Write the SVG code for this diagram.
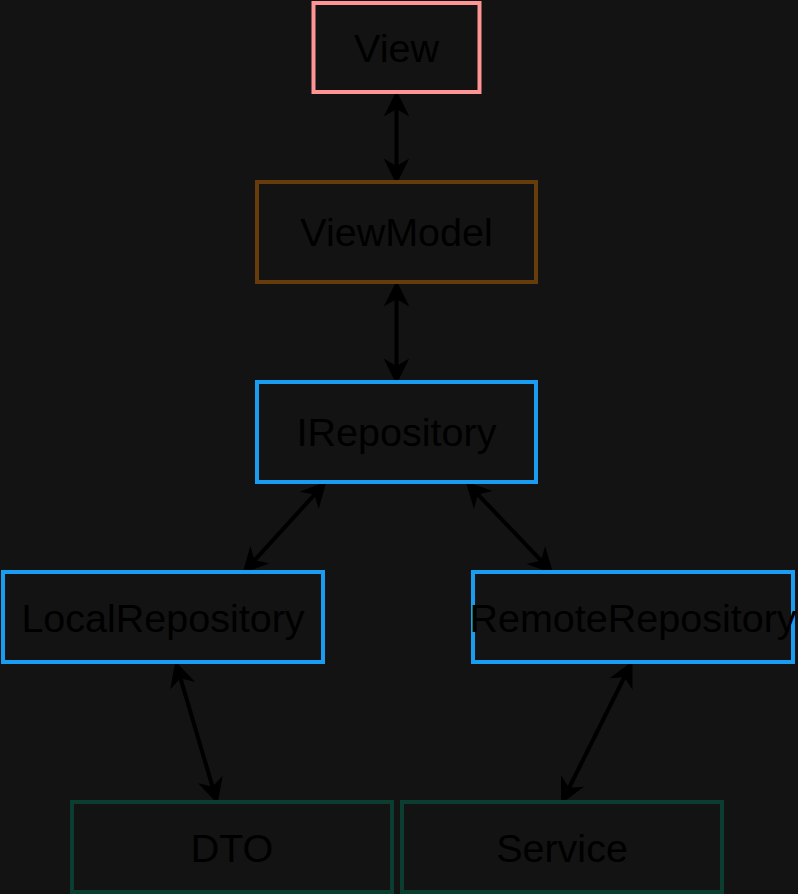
<svg xmlns="http://www.w3.org/2000/svg" width="798" height="894" viewBox="0 0 798 894">
<style>
.box{fill:#131313;stroke-width:4}
.lbl{font-family:"Liberation Sans",Arial,sans-serif;font-size:39.5px;fill:#000;text-anchor:middle}
.edge{stroke:#000;stroke-width:4;fill:none;marker-start:url(#arr);marker-end:url(#arr)}
</style>
<defs>
<marker id="arr" viewBox="-10 -14 30 28" markerWidth="30" markerHeight="28" refX="0" refY="0" orient="auto-start-reverse" markerUnits="userSpaceOnUse">
<path d="M15.5,0 L-6.5,-11 L0,0 L-6.5,11 Z" fill="#000" stroke="#000" stroke-width="1.5" stroke-linejoin="miter"/>
</marker>
</defs>
<rect width="798" height="894" fill="#131313"/>
<g id="connectors">
<line class="edge" x1="396.5" y1="108" x2="396.5" y2="167"/>
<line class="edge" x1="396.5" y1="298" x2="396.5" y2="367"/>
<line class="edge" x1="314.9" y1="494.1" x2="254.1" y2="560.9"/>
<line class="edge" x1="477.4" y1="493.8" x2="541.6" y2="561.2"/>
<line class="edge" x1="180.2" y1="677.4" x2="212.8" y2="787.6"/>
<line class="edge" x1="624.8" y1="676.4" x2="568.7" y2="788.6"/>
</g>
<g id="view">
<rect class="box" x="313.5" y="3" width="166" height="89" stroke="#ff9494"/>
<text class="lbl" x="396.5" y="61.5">View</text>
</g>
<g id="viewmodel">
<rect class="box" x="257" y="182" width="279" height="100" stroke="#663c0a"/>
<text class="lbl" x="396.5" y="246">ViewModel</text>
</g>
<g id="irepository">
<rect class="box" x="257" y="382" width="279" height="100" stroke="#1a9df0"/>
<text class="lbl" x="396.5" y="446">IRepository</text>
</g>
<g id="localrepository">
<rect class="box" x="3" y="572" width="320" height="90" stroke="#1a9df0"/>
<text class="lbl" x="163" y="631.5">LocalRepository</text>
</g>
<g id="remoterepository">
<rect class="box" x="473" y="572" width="320" height="90" stroke="#1a9df0"/>
<text class="lbl" x="633" y="631.5">RemoteRepository</text>
</g>
<g id="dto">
<rect class="box" x="72" y="802" width="320" height="90" stroke="#0b3d30"/>
<text class="lbl" x="232" y="861.5">DTO</text>
</g>
<g id="service">
<rect class="box" x="402" y="802" width="320" height="90" stroke="#0b3d30"/>
<text class="lbl" x="562" y="861.5">Service</text>
</g>
</svg>
